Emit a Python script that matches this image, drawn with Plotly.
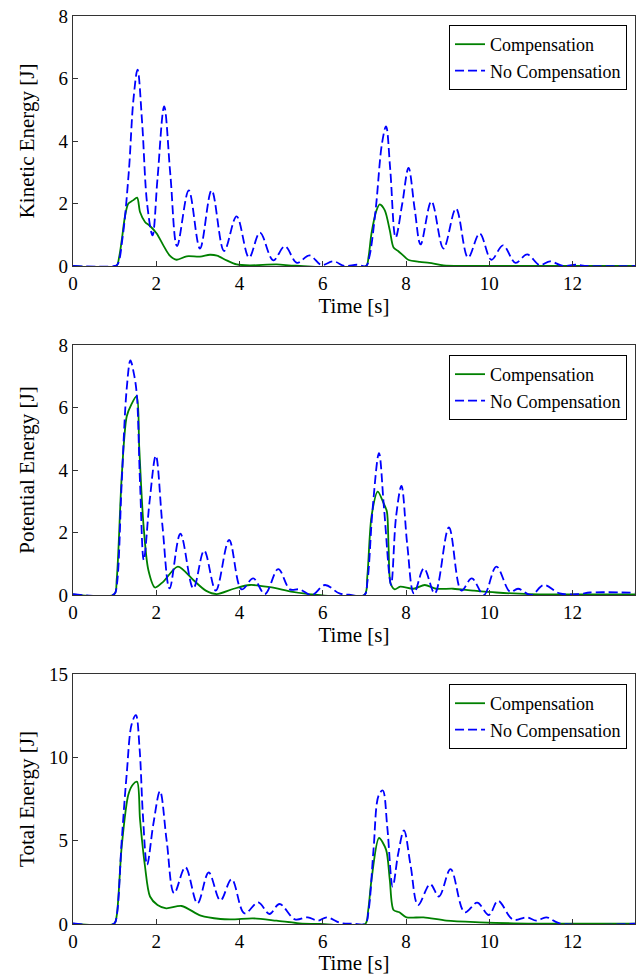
import plotly.graph_objects as go
from plotly.subplots import make_subplots

# ---------------- Kinetic energy ----------------
ke_nc_t = [0, 0.99, 1.07, 1.19, 1.34, 1.45, 1.55, 1.66, 1.78, 1.91, 2.03, 2.19, 2.34, 2.50, 2.78, 3.05,
           3.33, 3.63, 3.93, 4.23, 4.49, 4.81, 5.09, 5.38, 5.68, 5.97, 6.25, 6.53, 6.82, 7.04, 7.12,
           7.27, 7.42, 7.52, 7.62, 7.75, 7.91, 8.06, 8.21, 8.35, 8.61, 8.90, 9.20, 9.49, 9.77, 10.05,
           10.33, 10.63, 10.91, 11.21, 11.46, 11.77, 12.07, 12.36, 13.5]
ke_nc = [0, 0, 0.05, 0.9, 3.0, 5.3, 6.28, 4.6, 2.0, 0.98, 2.8, 5.11, 2.9, 0.64, 2.42, 0.56,
         2.42, 0.48, 1.59, 0.27, 1.07, 0.18, 0.63, 0.1, 0.34, 0.03, 0.15, 0.0, 0.04, 0.0, 0.3,
         1.8, 3.9, 4.47, 3.1, 0.91, 2.0, 3.14, 1.8, 0.69, 2.07, 0.56, 1.84, 0.27, 1.04, 0.2,
         0.66, 0.1, 0.37, 0.03, 0.15, 0.0, 0.04, 0.0, 0.0]

ke_c_t = [0, 1.04, 1.11, 1.17, 1.25, 1.33, 1.44, 1.54, 1.61, 1.73, 1.85, 2.01, 2.17, 2.32, 2.49, 2.73,
          3.05, 3.29, 3.46, 3.69, 3.93, 4.25, 4.89, 5.34, 7.04, 7.10, 7.17, 7.29, 7.37, 7.49, 7.61,
          7.70, 7.81, 7.93, 8.05, 8.33, 8.56, 8.90, 9.40, 13.5]
ke_c = [0, 0, 0.3, 0.82, 1.6, 2.0, 2.1, 2.19, 1.73, 1.41, 1.28, 1.04, 0.66, 0.34, 0.2, 0.31,
        0.3, 0.36, 0.33, 0.18, 0.05, 0.02, 0.05, 0.01, 0, 0.3, 1.04, 1.78, 1.97, 1.78, 1.14,
        0.59, 0.48, 0.34, 0.2, 0.13, 0.1, 0.02, 0, 0]

# ---------------- Potential energy ----------------
pe_nc_t = [0, 0.99, 1.05, 1.17, 1.29, 1.38, 1.46, 1.53, 1.61, 1.70, 1.84, 1.99, 2.15, 2.32, 2.58, 2.89,
           3.15, 3.43, 3.75, 4.05, 4.33, 4.61, 4.93, 5.21, 5.44, 5.74, 6.05, 6.40, 6.63, 7.00, 7.07,
           7.20, 7.35, 7.47, 7.64, 7.76, 7.89, 8.03, 8.19, 8.43, 8.69, 9.03, 9.33, 9.58, 9.87, 10.17,
           10.50, 10.69, 11.01, 11.31, 11.69, 12.16, 12.42, 13.5]
pe_nc = [0.03, 0.03, 0.3, 3.6, 6.6, 7.51, 7.1, 6.46, 3.6, 1.12, 3.0, 4.46, 2.2, 0.21, 1.96, 0.21,
         1.42, 0.14, 1.76, 0.18, 0.53, 0.03, 0.83, 0.18, 0.18, 0.0, 0.32, 0.05, 0.01, 0.0, 0.4,
         2.8, 4.54, 2.8, 0.32, 2.5, 3.49, 1.6, 0.05, 0.85, 0.05, 2.16, 0.14, 0.53, 0.0, 0.91,
         0.1, 0.2, 0.0, 0.32, 0.05, 0.03, 0.08, 0.07]

pe_c_t = [0, 0.99, 1.05, 1.17, 1.29, 1.40, 1.53, 1.59, 1.69, 1.81, 1.97, 2.17, 2.52, 2.89, 3.19, 3.45,
          3.86, 4.25, 4.73, 5.28, 5.74, 7.00, 7.07, 7.17, 7.32, 7.46, 7.54, 7.58, 7.63, 7.73, 7.86,
          8.18, 8.45, 8.72, 9.13, 9.61, 10.17, 10.97, 13.5]
pe_c = [0.02, 0.02, 0.5, 3.79, 5.71, 6.09, 6.36, 4.75, 2.30, 0.80, 0.24, 0.43, 0.91, 0.48, 0.14, 0.03,
        0.2, 0.32, 0.25, 0.1, 0.02, 0.0, 0.6, 2.51, 3.31, 2.94, 2.67, 1.55, 0.37, 0.18, 0.27,
        0.2, 0.32, 0.2, 0.2, 0.14, 0.08, 0.03, 0.02]

# ---------------- Total energy ----------------
te_nc_t = [0, 0.99, 1.05, 1.17, 1.29, 1.41, 1.51, 1.60, 1.68, 1.78, 1.93, 2.09, 2.25, 2.43, 2.70, 2.99,
           3.26, 3.54, 3.81, 4.12, 4.45, 4.72, 4.96, 5.33, 5.64, 5.88, 6.10, 6.43, 6.73, 7.02, 7.10,
           7.22, 7.34, 7.44, 7.55, 7.68, 7.81, 7.95, 8.11, 8.29, 8.58, 8.79, 9.07, 9.41, 9.71, 9.99,
           10.21, 10.57, 10.90, 11.13, 11.37, 11.69, 13.5]
te_nc = [0.03, 0.03, 0.5, 5.0, 9.0, 12.0, 12.53, 10.5, 6.5, 3.55, 6.0, 7.97, 5.0, 1.85, 3.41, 1.24,
         3.09, 1.41, 2.69, 0.64, 1.30, 0.6, 1.20, 0.28, 0.40, 0.2, 0.40, 0.06, 0.02, 0.02, 0.8,
         4.5, 7.7, 8.01, 5.8, 2.25, 4.2, 5.62, 3.5, 1.14, 2.39, 1.65, 3.29, 0.70, 1.28, 0.54,
         1.39, 0.26, 0.40, 0.2, 0.40, 0.04, 0.02]

te_c_t = [0, 0.99, 1.05, 1.17, 1.33, 1.44, 1.54, 1.61, 1.73, 1.85, 2.03, 2.24, 2.61, 3.07, 3.54, 3.86,
          4.32, 4.89, 5.44, 5.93, 7.02, 7.09, 7.17, 7.35, 7.52, 7.61, 7.70, 7.84, 8.01, 8.42, 8.97,
          9.77, 10.58, 13.5]
te_c = [0.02, 0.02, 0.5, 4.66, 7.77, 8.37, 8.53, 6.27, 3.45, 1.65, 1.14, 0.94, 1.08, 0.5, 0.3, 0.28,
        0.34, 0.2, 0.04, 0.01, 0.01, 0.8, 2.65, 5.16, 4.46, 2.65, 0.84, 0.70, 0.4, 0.4, 0.2,
        0.1, 0.04, 0.02]

y_titles = ["Kinetic Energy [J]", "Potential Energy [J]", "Total Energy [J]"]
y_ranges = [[0, 8], [0, 8], [0, 15]]
y_dticks = [2, 2, 5]
y_standoffs = [18, 18, 8]
x_title = "Time [s]"
series_names = ["Compensation", "No Compensation"]

FONT = "Liberation Serif, Times New Roman, serif"
GREEN = "#008000"
BLUE = "#0000ff"

fig = make_subplots(rows=3, cols=1, vertical_spacing=79 / 908)

data = [
    (ke_c_t, ke_c, ke_nc_t, ke_nc),
    (pe_c_t, pe_c, pe_nc_t, pe_nc),
    (te_c_t, te_c, te_nc_t, te_nc),
]
legend_ids = ["legend", "legend2", "legend3"]

for i, (ct, cv, nt, nv) in enumerate(data):
    r = i + 1
    fig.add_trace(go.Scatter(x=ct, y=cv, mode="lines", name=series_names[0],
                             line=dict(color=GREEN, width=1.8, shape="spline", smoothing=0.8),
                             legend=legend_ids[i]), row=r, col=1)
    fig.add_trace(go.Scatter(x=nt, y=nv, mode="lines", name=series_names[1],
                             line=dict(color=BLUE, width=1.8, dash="9px,4px", shape="spline", smoothing=1.0),
                             legend=legend_ids[i]), row=r, col=1)
    fig.update_xaxes(row=r, col=1, range=[0, 13.5], dtick=2, tick0=0,
                     title=dict(text=x_title, font=dict(size=21, family=FONT, color="black"), standoff=4),
                     showgrid=False, zeroline=False, showline=True, linecolor="#333333", linewidth=1.2,
                     mirror=True, ticks="inside", ticklen=5, tickcolor="#333333", automargin=False,
                     tickfont=dict(size=19, family=FONT, color="black"))
    fig.update_yaxes(row=r, col=1, range=y_ranges[i], dtick=y_dticks[i], tick0=0,
                     title=dict(text=y_titles[i], font=dict(size=21, family=FONT, color="black"),
                                standoff=y_standoffs[i]),
                     showgrid=False, zeroline=False, showline=True, linecolor="#333333", linewidth=1.2,
                     mirror=True, ticks="inside", ticklen=5, tickcolor="#333333", automargin=False,
                     tickfont=dict(size=19, family=FONT, color="black"))

legend_style = dict(xanchor="right", yanchor="top", bgcolor="white", bordercolor="black",
                    borderwidth=1, font=dict(size=18, family=FONT, color="black"),
                    tracegroupgap=0, itemwidth=30)
fig.update_layout(
    width=638, height=975,
    margin=dict(l=73, r=3, t=16, b=51),
    paper_bgcolor="white", plot_bgcolor="white",
    font=dict(family=FONT, color="black"),
    legend=dict(x=0.9858, y=0.9901, **legend_style),
    legend2=dict(x=0.9858, y=0.6267, **legend_style),
    legend3=dict(x=0.9858, y=0.2643, **legend_style),
)

# remove the browser's default 8 px body margin so the figure sits at the page origin
fig.write_html("out.html",
               config={"displayModeBar": False},
               post_script="document.body.style.margin='0px';document.body.style.overflow='hidden';")
